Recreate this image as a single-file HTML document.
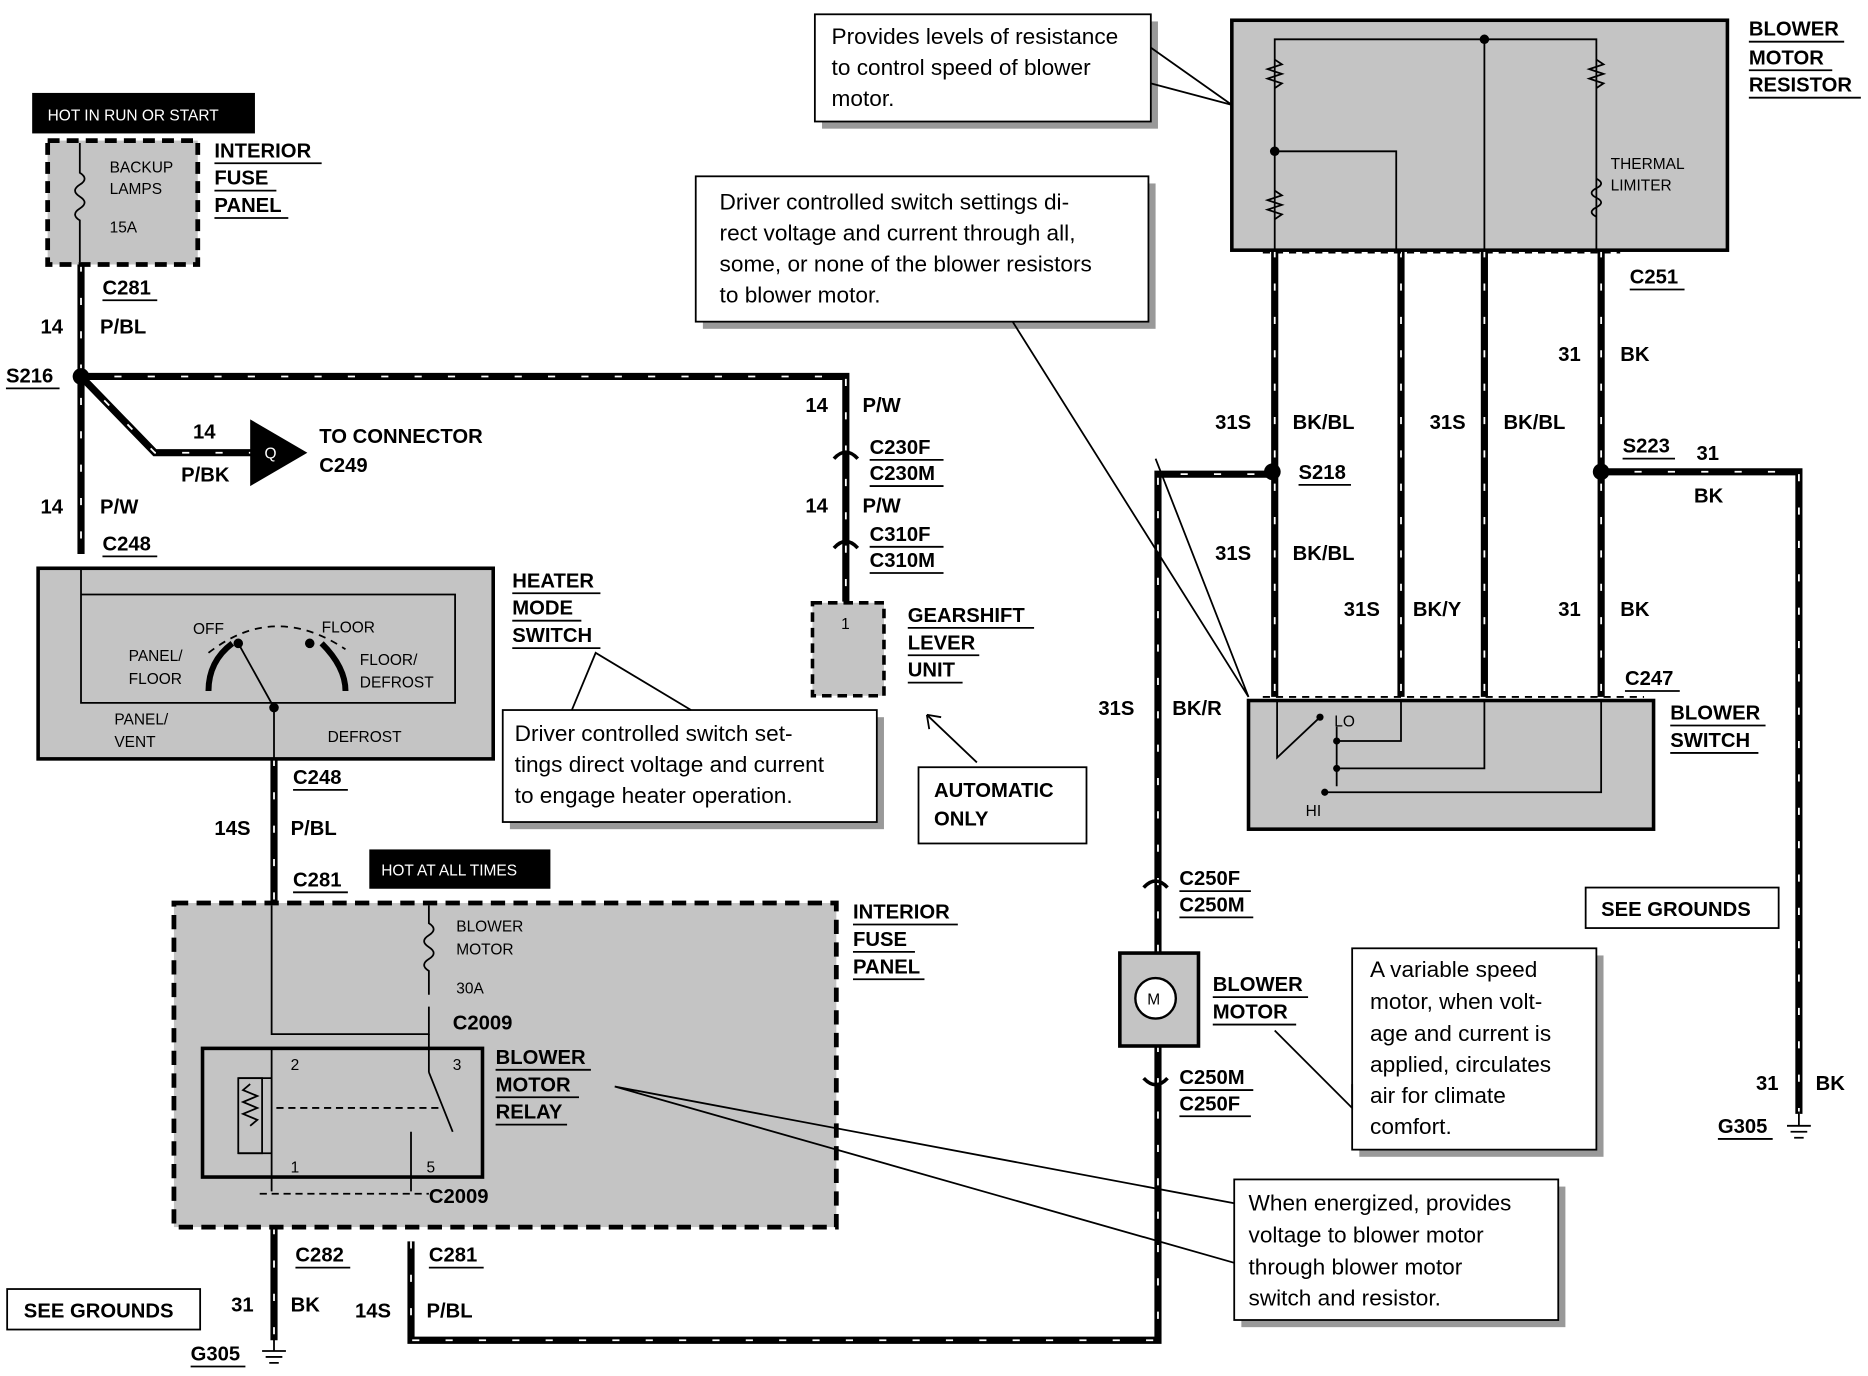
<!DOCTYPE html>
<html><head><meta charset="utf-8"><style>
html,body{margin:0;padding:0;background:#fff}
svg{display:block}
text{font-family:"Liberation Sans",sans-serif}
.b{font-weight:bold;font-size:17px}
.s{font-size:13px}
.c{font-size:19px}
.w{fill:none;stroke:#000;stroke-width:6}
.wd{fill:none;stroke:#fff;stroke-width:1.5;stroke-dasharray:6 22}
.g{fill:#c4c4c4}
.sh{fill:#999}
.bx{fill:#fff;stroke:#000;stroke-width:1.5}
.ln{fill:none;stroke:#000;stroke-width:1.5}
.u{stroke:#000;stroke-width:1.5}
</style></head><body>
<svg width="1868" height="1376" viewBox="0 0 1568 1155" preserveAspectRatio="none">
<defs>
<path id="p1" d="M68 222V465"/>
<path id="p2" d="M68 316H710V505"/>
<path id="p3" d="M68 316L130 380H212"/>
<path id="p4" d="M230 637V760"/>
<path id="p5" d="M230 1030V1125"/>
<path id="p6" d="M345 1042V1125H972V398H1068"/>
<path id="p7" d="M1070 210V585"/>
<path id="p8" d="M1176 210V585"/>
<path id="p9" d="M1246 210V585"/>
<path id="p10" d="M1344 210V585"/>
<path id="p11" d="M1344 396H1510V935"/>
</defs>
<g class="w"><use href="#p1"/><use href="#p2"/><use href="#p3"/><use href="#p4"/><use href="#p5"/><use href="#p6"/><use href="#p7"/><use href="#p8"/><use href="#p9"/><use href="#p10"/><use href="#p11"/></g>
<g class="wd"><use href="#p1"/><use href="#p2"/><use href="#p3"/><use href="#p4"/><use href="#p5"/><use href="#p6"/><use href="#p7"/><use href="#p8"/><use href="#p9"/><use href="#p10"/><use href="#p11"/></g>

<!-- top left fuse -->
<rect x="27" y="78" width="187" height="34" fill="#000"/>
<text x="40" y="101" fill="#fff" font-size="13">HOT IN RUN OR START</text>
<rect x="40" y="118" width="126" height="104" class="g" stroke="#000" stroke-width="4" stroke-dasharray="10 6"/>
<path class="ln" d="M67 120v25q8 5 0 10q-8 5 0 10q8 5 0 10q-8 5 0 10v35"/>
<text class="s" x="92" y="145">BACKUP</text><text class="s" x="92" y="163">LAMPS</text><text class="s" x="92" y="195">15A</text>
<text class="b" x="180" y="132">INTERIOR</text><line class="u" x1="180" y1="137" x2="270" y2="137"/>
<text class="b" x="180" y="155">FUSE</text><line class="u" x1="180" y1="160" x2="232" y2="160"/>
<text class="b" x="180" y="178">PANEL</text><line class="u" x1="180" y1="183" x2="242" y2="183"/>
<text class="b" x="86" y="247">C281</text><line class="u" x1="86" y1="252" x2="132" y2="252"/>
<text class="b" x="34" y="280">14</text><text class="b" x="84" y="280">P/BL</text>
<circle cx="68" cy="316" r="7"/>
<text class="b" x="5" y="321">S216</text><line class="u" x1="5" y1="326" x2="50" y2="326"/>
<polygon points="210,352 258,380 210,408"/>
<text x="222" y="385" fill="#fff" font-size="13">Q</text>
<text class="b" x="162" y="368">14</text><text class="b" x="152" y="404">P/BK</text>
<text class="b" x="268" y="372">TO CONNECTOR</text><text class="b" x="268" y="396">C249</text>
<text class="b" x="34" y="431">14</text><text class="b" x="84" y="431">P/W</text>
<text class="b" x="86" y="462">C248</text><line class="u" x1="86" y1="467" x2="132" y2="467"/>

<!-- heater mode switch -->
<rect x="32" y="477" width="382" height="160" class="g" stroke="#000" stroke-width="3"/>
<path class="ln" d="M68 477V590H382V499H68"/>
<path class="ln" stroke-dasharray="6 5" d="M175 548Q230 505 290 545"/>
<path d="M175 580Q175 555 195 540M290 580Q290 560 270 540" fill="none" stroke="#000" stroke-width="5"/>
<circle cx="200" cy="540" r="4"/><circle cx="260" cy="540" r="4"/><circle cx="230" cy="594" r="4"/>
<path class="ln" d="M200 540L230 594V637"/>
<text class="s" x="162" y="532">OFF</text><text class="s" x="270" y="531">FLOOR</text>
<text class="s" x="108" y="555">PANEL/</text><text class="s" x="108" y="574">FLOOR</text>
<text class="s" x="302" y="558">FLOOR/</text><text class="s" x="302" y="577">DEFROST</text>
<text class="s" x="96" y="608">PANEL/</text><text class="s" x="96" y="627">VENT</text>
<text class="s" x="275" y="623">DEFROST</text>
<text class="b" x="430" y="493">HEATER</text><line class="u" x1="430" y1="498" x2="504" y2="498"/>
<text class="b" x="430" y="516">MODE</text><line class="u" x1="430" y1="521" x2="488" y2="521"/>
<text class="b" x="430" y="539">SWITCH</text><line class="u" x1="430" y1="544" x2="504" y2="544"/>
<rect x="428" y="602" width="314" height="94" class="sh"/>
<rect x="422" y="596" width="314" height="94" class="bx"/>
<path class="ln" d="M480 596L500 548L580 596"/>
<text class="c" x="432" y="622">Driver controlled switch set-</text>
<text class="c" x="432" y="648">tings direct voltage and current</text>
<text class="c" x="432" y="674">to engage heater operation.</text>

<!-- right of top middle -->
<text class="b" x="676" y="346">14</text><text class="b" x="724" y="346">P/W</text>
<text class="b" x="730" y="381">C230F</text><line class="u" x1="730" y1="386" x2="792" y2="386"/>
<text class="b" x="730" y="403">C230M</text><line class="u" x1="730" y1="408" x2="792" y2="408"/>
<text class="b" x="676" y="430">14</text><text class="b" x="724" y="430">P/W</text>
<text class="b" x="730" y="454">C310F</text><line class="u" x1="730" y1="459" x2="792" y2="459"/>
<text class="b" x="730" y="476">C310M</text><line class="u" x1="730" y1="481" x2="792" y2="481"/>
<path d="M700 385Q710 374 720 385M700 460Q710 449 720 460" fill="none" stroke="#000" stroke-width="3"/>
<rect x="682" y="506" width="60" height="78" class="g" stroke="#000" stroke-width="3" stroke-dasharray="8 5"/>
<text class="s" x="706" y="528">1</text>
<text class="b" x="762" y="522">GEARSHIFT</text><line class="u" x1="762" y1="527" x2="868" y2="527"/>
<text class="b" x="762" y="545">LEVER</text><line class="u" x1="762" y1="550" x2="822" y2="550"/>
<text class="b" x="762" y="568">UNIT</text><line class="u" x1="762" y1="573" x2="808" y2="573"/>
<path class="ln" d="M820 640L778 600M778 600l12 2M778 600l2 12"/>
<rect x="771" y="644" width="141" height="64" class="bx"/>
<text class="b" x="784" y="669">AUTOMATIC</text><text class="b" x="784" y="693">ONLY</text>

<!-- lower left -->
<text class="b" x="246" y="658">C248</text><line class="u" x1="246" y1="663" x2="292" y2="663"/>
<text class="b" x="180" y="701">14S</text><text class="b" x="244" y="701">P/BL</text>
<text class="b" x="246" y="744">C281</text><line class="u" x1="246" y1="749" x2="292" y2="749"/>
<rect x="310" y="713" width="152" height="33" fill="#000"/>
<text x="320" y="735" fill="#fff" font-size="13">HOT AT ALL TIMES</text>
<rect x="146" y="758" width="556" height="272" class="g" stroke="#000" stroke-width="4" stroke-dasharray="12 7"/>
<path class="ln" d="M228 760V868H360V845M360 760v15q8 5 0 10q-8 5 0 10q8 5 0 10q-8 5 0 10v20"/>
<text class="s" x="383" y="782">BLOWER</text><text class="s" x="383" y="801">MOTOR</text><text class="s" x="383" y="834">30A</text>
<text class="b" x="380" y="864">C2009</text>
<rect x="170" y="880" width="235" height="108" fill="none" stroke="#000" stroke-width="3"/>
<path class="ln" d="M228 880V1000M360 868V900M360 900L380 950M345 950V1000M200 905h28M200 968h28"/>
<rect x="200" y="905" width="20" height="63" class="ln"/>
<path class="ln" d="M210 910l-6 5l12 5l-12 5l12 5l-12 5l12 5l-6 5"/>
<path class="ln" stroke-dasharray="6 4" d="M232 930H370"/>
<text class="s" x="244" y="898">2</text><text class="s" x="380" y="898">3</text><text class="s" x="244" y="984">1</text><text class="s" x="358" y="984">5</text>
<text class="b" x="416" y="893">BLOWER</text><line class="u" x1="416" y1="898" x2="496" y2="898"/>
<text class="b" x="416" y="916">MOTOR</text><line class="u" x1="416" y1="921" x2="486" y2="921"/>
<text class="b" x="416" y="939">RELAY</text><line class="u" x1="416" y1="944" x2="476" y2="944"/>
<path class="ln" stroke-dasharray="6 4" d="M218 1002H360"/>
<text class="b" x="360" y="1010">C2009</text>
<text class="b" x="716" y="771">INTERIOR</text><line class="u" x1="716" y1="776" x2="804" y2="776"/>
<text class="b" x="716" y="794">FUSE</text><line class="u" x1="716" y1="799" x2="768" y2="799"/>
<text class="b" x="716" y="817">PANEL</text><line class="u" x1="716" y1="822" x2="776" y2="822"/>
<text class="b" x="248" y="1059">C282</text><line class="u" x1="248" y1="1064" x2="294" y2="1064"/>
<text class="b" x="360" y="1059">C281</text><line class="u" x1="360" y1="1064" x2="406" y2="1064"/>
<rect x="6" y="1082" width="162" height="34" class="bx"/>
<text class="b" x="20" y="1106">SEE GROUNDS</text>
<text class="b" x="194" y="1101">31</text><text class="b" x="244" y="1101">BK</text>
<text class="b" x="298" y="1106">14S</text><text class="b" x="358" y="1106">P/BL</text>
<text class="b" x="160" y="1142">G305</text><line class="u" x1="160" y1="1147" x2="206" y2="1147"/>
<path class="ln" stroke-width="2" d="M230 1122v12M220 1134h20M223 1139h14M226 1144h8"/>

<!-- blower motor -->
<rect x="940" y="800" width="66" height="78" class="g" stroke="#000" stroke-width="3"/>
<circle cx="970" cy="838" r="17" fill="#fff" stroke="#000" stroke-width="2"/>
<text x="963" y="843" font-size="13">M</text>
<text class="b" x="990" y="743">C250F</text><line class="u" x1="990" y1="748" x2="1050" y2="748"/>
<text class="b" x="990" y="765">C250M</text><line class="u" x1="990" y1="770" x2="1052" y2="770"/>
<text class="b" x="990" y="910">C250M</text><line class="u" x1="990" y1="915" x2="1052" y2="915"/>
<text class="b" x="990" y="932">C250F</text><line class="u" x1="990" y1="937" x2="1050" y2="937"/>
<path d="M960 745Q970 734 980 745M960 905Q970 916 980 905" fill="none" stroke="#000" stroke-width="3"/>
<text class="b" x="1018" y="832">BLOWER</text><line class="u" x1="1018" y1="837" x2="1098" y2="837"/>
<text class="b" x="1018" y="855">MOTOR</text><line class="u" x1="1018" y1="860" x2="1088" y2="860"/>
<rect x="1141" y="802" width="205" height="169" class="sh"/>
<rect x="1135" y="796" width="205" height="169" class="bx"/>
<path class="ln" d="M1070 865L1135 930L1135 910"/>
<text class="c" x="1150" y="820">A variable speed</text><text class="c" x="1150" y="847">motor,  when  volt-</text>
<text class="c" x="1150" y="874">age and current is</text><text class="c" x="1150" y="900">applied, circulates</text>
<text class="c" x="1150" y="926">air for climate</text><text class="c" x="1150" y="952">comfort.</text>
<rect x="1042" y="996" width="272" height="118" class="sh"/>
<rect x="1036" y="990" width="272" height="118" class="bx"/>
<path class="ln" d="M516 912L1036 1010M516 912L1036 1060"/>
<text class="c" x="1048" y="1016">When energized, provides</text><text class="c" x="1048" y="1043">voltage to blower motor</text>
<text class="c" x="1048" y="1070">through  blower motor</text><text class="c" x="1048" y="1096">switch and resistor.</text>

<!-- resistor -->
<rect x="1034" y="17" width="416" height="193" class="g" stroke="#000" stroke-width="3"/>
<path class="ln" d="M1070 210V33H1340V210M1246 33V210M1070 127H1172V210"/>
<path class="ln" stroke-width="2" d="M1070 50l6 4l-12 4l12 4l-12 4l12 4l-6 4M1070 160l6 4l-12 4l12 4l-12 4l12 4l-6 4M1340 50l6 4l-12 4l12 4l-12 4l12 4l-6 4M1340 150q8 4 0 8q-8 4 0 8q8 4 0 8q-8 4 0 8"/>
<circle cx="1246" cy="33" r="4"/><circle cx="1070" cy="127" r="4"/>
<text class="s" x="1352" y="142">THERMAL</text><text class="s" x="1352" y="160">LIMITER</text>
<text class="b" x="1468" y="30">BLOWER</text><line class="u" x1="1468" y1="35" x2="1548" y2="35"/>
<text class="b" x="1468" y="54">MOTOR</text><line class="u" x1="1468" y1="59" x2="1538" y2="59"/>
<text class="b" x="1468" y="77">RESISTOR</text><line class="u" x1="1468" y1="82" x2="1562" y2="82"/>
<rect x="690" y="18" width="282" height="90" class="sh"/>
<rect x="684" y="12" width="282" height="90" class="bx"/>
<path class="ln" d="M966 40L1034 88L966 70"/>
<text class="c" x="698" y="37">Provides levels of resistance</text><text class="c" x="698" y="63">to control speed of blower</text><text class="c" x="698" y="89">motor.</text>
<rect x="590" y="154" width="380" height="122" class="sh"/>
<rect x="584" y="148" width="380" height="122" class="bx"/>
<text class="c" x="604" y="176">Driver controlled switch settings di-</text>
<text class="c" x="604" y="202">rect voltage and current through all,</text>
<text class="c" x="604" y="228">some, or none of the blower resistors</text>
<text class="c" x="604" y="254">to blower motor.</text>
<path class="ln" d="M850 270L1048 585L970 385"/>

<text class="b" x="1368" y="238">C251</text><line class="u" x1="1368" y1="243" x2="1414" y2="243"/>
<text class="b" x="1308" y="303">31</text><text class="b" x="1360" y="303">BK</text>
<text class="b" x="1020" y="360">31S</text><text class="b" x="1085" y="360">BK/BL</text>
<text class="b" x="1200" y="360">31S</text><text class="b" x="1262" y="360">BK/BL</text>
<circle cx="1068" cy="396" r="7"/><circle cx="1344" cy="396" r="7"/>
<text class="b" x="1090" y="402">S218</text><line class="u" x1="1090" y1="407" x2="1134" y2="407"/>
<text class="b" x="1362" y="380">S223</text><line class="u" x1="1362" y1="385" x2="1406" y2="385"/>
<text class="b" x="1424" y="386">31</text><text class="b" x="1422" y="422">BK</text>
<text class="b" x="1020" y="470">31S</text><text class="b" x="1085" y="470">BK/BL</text>
<text class="b" x="1128" y="517">31S</text><text class="b" x="1186" y="517">BK/Y</text>
<text class="b" x="1308" y="517">31</text><text class="b" x="1360" y="517">BK</text>
<text class="b" x="1364" y="575">C247</text><line class="u" x1="1364" y1="580" x2="1410" y2="580"/>
<text class="b" x="922" y="600">31S</text><text class="b" x="984" y="600">BK/R</text>

<!-- blower switch -->
<rect x="1048" y="588" width="340" height="108" class="g" stroke="#000" stroke-width="3"/>
<path class="ln" d="M1072 588V636L1108 602M1176 588V622H1122M1246 588V645H1122M1344 588V665H1112M1122 610V660"/>
<circle cx="1108" cy="602" r="3"/><circle cx="1122" cy="622" r="3"/><circle cx="1122" cy="645" r="3"/><circle cx="1112" cy="665" r="3"/>
<text class="s" x="1120" y="610">LO</text><text class="s" x="1096" y="685">HI</text>
<path class="ln" stroke-dasharray="6 5" d="M1060 585H1380"/>
<path class="ln" stroke-dasharray="6 5" d="M1060 212H1360"/>
<text class="b" x="1402" y="604">BLOWER</text><line class="u" x1="1402" y1="609" x2="1482" y2="609"/>
<text class="b" x="1402" y="627">SWITCH</text><line class="u" x1="1402" y1="632" x2="1476" y2="632"/>
<rect x="1331" y="745" width="162" height="34" class="bx"/>
<text class="b" x="1344" y="769">SEE GROUNDS</text>
<text class="b" x="1474" y="915">31</text><text class="b" x="1524" y="915">BK</text>
<text class="b" x="1442" y="951">G305</text><line class="u" x1="1442" y1="956" x2="1488" y2="956"/>
<path class="ln" stroke-width="2" d="M1510 933v12M1500 945h20M1503 950h14M1506 955h8"/>
</svg>
</body></html>
